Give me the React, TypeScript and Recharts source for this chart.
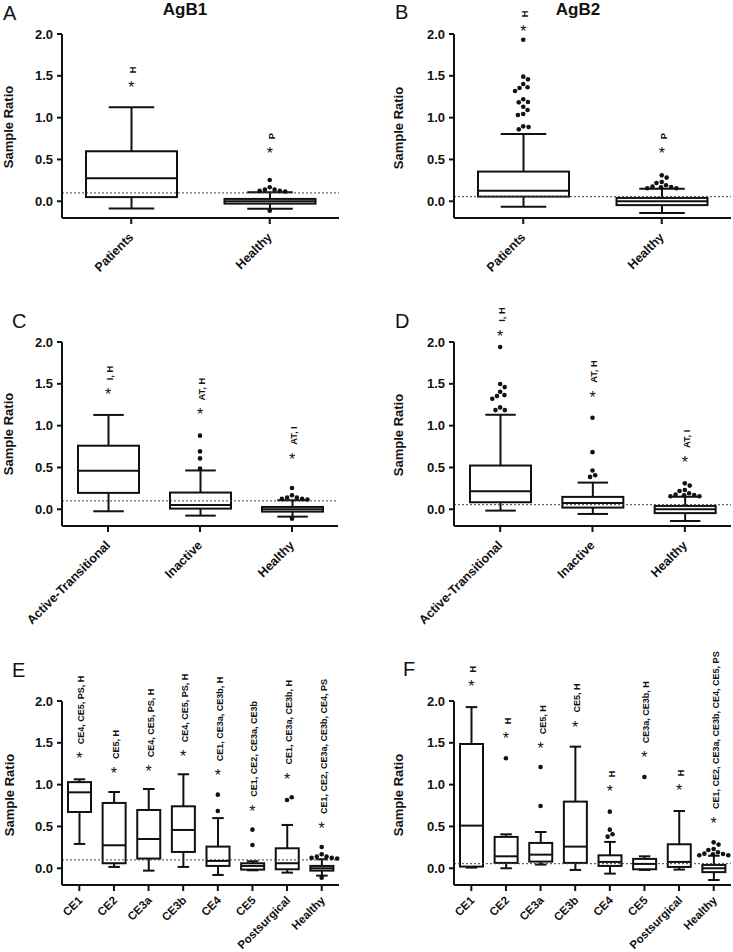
import React from 'react';
import { ComposedChart, Bar, Scatter, XAxis, YAxis, ReferenceLine, ReferenceDot } from 'recharts';

const FONT = '"Liberation Sans", Arial, Helvetica, sans-serif';
const INK = '#111';

// categories
const groupsAB = ['Patients', 'Healthy'];
const groupsCD = ['Active-Transitional', 'Inactive', 'Healthy'];
const groupsEF = ['CE1', 'CE2', 'CE3a', 'CE3b', 'CE4', 'CE5', 'Postsurgical', 'Healthy'];

// box summaries: min, Q1, median, Q3, max
const healthyB1 = [-0.088, -0.028, 0.0, 0.028, 0.108];
const healthyB2 = [-0.14, -0.046, 0.0, 0.04, 0.15];
const healthyB1Out = [0.255, 0.167, 0.139, 0.139, 0.124, 0.124, 0.116, -0.112];
const healthyB2Out = [0.31, 0.283, 0.231, 0.219, 0.191, 0.175, 0.171, 0.167, 0.155, 0.155];

const boxesA = [[-0.085, 0.05, 0.275, 0.598, 1.123], healthyB1];
const outA = [[], healthyB1Out];
const starA = [1.4, 0.61];
const sigA = ['H', 'P'];

const boxesB = [[-0.064, 0.056, 0.127, 0.355, 0.805], healthyB2];
const outB = [
  [1.932, 1.49, 1.458, 1.402, 1.363, 1.355, 1.319, 1.219, 1.187, 1.183, 1.131, 1.092, 1.044, 1.032, 0.896, 0.888, 0.86],
  healthyB2Out,
];
const starB = [2.07, 0.61];
const sigB = ['H', 'P'];

const boxesC = [[-0.024, 0.196, 0.46, 0.76, 1.128], [-0.076, 0.008, 0.052, 0.2, 0.464], healthyB1];
const outC = [[], [0.88, 0.692, 0.608, 0.488], healthyB1Out];
const starC = [1.41, 1.17, 0.64];
const sigC = ['I, H', 'AT, H', 'AT, I'];

const boxesD = [[-0.016, 0.084, 0.216, 0.523, 1.13], [-0.056, 0.02, 0.076, 0.148, 0.319], healthyB2];
const outD = [
  [1.94, 1.497, 1.461, 1.405, 1.365, 1.353, 1.321, 1.218, 1.186, 1.186],
  [1.094, 0.683, 0.463, 0.407, 0.387],
  healthyB2Out,
];
const starD = [2.11, 1.38, 0.6];
const sigD = ['I, H', 'AT, H', 'AT, I'];

const boxesE = [
  [0.291, 0.673, 0.908, 1.03, 1.064],
  [0.016, 0.06, 0.275, 0.781, 0.912],
  [-0.028, 0.116, 0.35, 0.697, 0.948],
  [0.016, 0.195, 0.458, 0.741, 1.124],
  [-0.08, 0.028, 0.088, 0.259, 0.6],
  [-0.024, -0.016, 0.028, 0.06, 0.084],
  [-0.052, -0.012, 0.06, 0.239, 0.518],
  healthyB1,
];
const outE = [[], [], [], [], [0.88, 0.685], [0.462, 0.279], [0.817, 0.849], healthyB1Out];
const starE = [1.35, 1.175, 1.195, 1.375, 1.147, 0.725, 1.108, 0.518];
const sigE = [
  'CE4, CE5, PS, H', 'CE5, H', 'CE4, CE5, PS, H', 'CE4, CE5, PS, H',
  'CE1, CE3a, CE3b, H', 'CE1, CE2, CE3a, CE3b', 'CE1, CE3a, CE3b, H', 'CE1, CE2, CE3a, CE3b, CE4, PS',
];

const boxesF = [
  [0.008, 0.02, 0.51, 1.486, 1.927],
  [0.0, 0.064, 0.143, 0.375, 0.406],
  [0.044, 0.08, 0.163, 0.303, 0.434],
  [-0.02, 0.064, 0.259, 0.797, 1.454],
  [-0.064, 0.028, 0.076, 0.155, 0.315],
  [-0.02, -0.012, 0.052, 0.112, 0.143],
  [-0.016, 0.016, 0.076, 0.287, 0.685],
  healthyB2,
];
const outF = [[], [1.315], [1.21, 0.745], [], [0.677, 0.462, 0.406, 0.378], [1.092], [], healthyB2Out];
const starF = [2.21, 1.59, 1.47, 1.73, 0.956, 1.363, 0.968, 0.578];
const sigF = ['H', 'H', 'CE5, H', 'CE5, H', 'H', 'CE3a, CE3b, H', 'H', 'CE1, CE2, CE3a, CE3b, CE4, CE5, PS'];

const cutB1 = 0.1;
const cutB2 = 0.055;
const yTicks = [0, 0.5, 1, 1.5, 2];

const PLOT_W = 277;
const PLOT_H = 184;
const Y_DOMAIN: [number, number] = [-0.2, 2];
const PX_PER_UNIT = PLOT_H / (Y_DOMAIN[1] - Y_DOMAIN[0]);

// spread overlapping outlier dots sideways (simple beeswarm)
function swarm(values: number[], d = 5.4): number[] {
  const placed: { x: number; y: number }[] = [];
  return values.map((v) => {
    const y = v * PX_PER_UNIT;
    const blocks = placed
      .filter((q) => Math.abs(q.y - y) < d)
      .map((q) => {
        const h = Math.sqrt(d * d - (q.y - y) ** 2);
        return [q.x - h, q.x + h];
      });
    const cands = [0, ...blocks.flat()].sort((a, b) => Math.abs(a) - Math.abs(b) || b - a);
    const x = cands.find((c) => blocks.every(([lo, hi]) => c <= lo + 1e-6 || c >= hi - 1e-6)) ?? 0;
    placed.push({ x, y });
    return x;
  });
}

const XTick = (props: any) => {
  const { x, y, payload, fs = 12.5, ox = 3, oy = 12 } = props;
  const ax = x + ox;
  const ay = y + oy;
  return (
    <text x={ax} y={ay} transform={`rotate(-45 ${ax} ${ay})`} textAnchor="end" fontSize={fs} fontWeight="bold" fontFamily={FONT} fill={INK}>
      {payload.value}
    </text>
  );
};

const Whisker = (props: any) => {
  const { x, y, width, height } = props;
  const top = Math.min(y, y + height);
  const bot = Math.max(y, y + height);
  const cx = x + width / 2;
  const cap = width / 4;
  return (
    <g stroke={INK} strokeWidth={2} fill="none">
      <line x1={cx} x2={cx} y1={top} y2={bot} />
      <line x1={cx - cap} x2={cx + cap} y1={top} y2={top} />
      <line x1={cx - cap} x2={cx + cap} y1={bot} y2={bot} />
    </g>
  );
};

const Box = (props: any) => {
  const { x, y, width, height } = props;
  const top = Math.min(y, y + height);
  return <rect x={x} y={top} width={width} height={Math.abs(height)} fill="#fff" stroke={INK} strokeWidth={2} />;
};

interface PanelProps {
  groups: string[];
  boxes: number[][];
  outliers: number[][];
  stars: number[];
  sigs: string[];
  cut: number;
  left: number;
  top: number;
  width: number;
  height: number;
  ml: number;
  mr: number;
  mt: number;
}

function Panel(p: PanelProps) {
  const n = p.groups.length;
  const dense = n > 3;
  const bw = Math.round((PLOT_W / n) * 0.66);
  const rows = p.groups.map((name, i) => ({
    name,
    whisker: [p.boxes[i][0], p.boxes[i][4]],
    box: [p.boxes[i][1], p.boxes[i][3]],
    med: p.boxes[i][2],
  }));
  const dots = p.groups.flatMap((_, i) => {
    const dx = swarm(p.outliers[i]);
    return p.outliers[i].map((v, k) => ({ x: i, v, dx: dx[k] }));
  });
  const sigSize = dense ? 9 : 9.3;
  return (
    <div style={{ position: 'absolute', left: p.left, top: p.top }}>
      <ComposedChart width={p.width} height={p.height} data={rows} margin={{ top: p.mt, right: p.mr, bottom: 0, left: p.ml }}>
        <XAxis
          dataKey="name"
          type="category"
          interval={0}
          height={p.height - p.mt - PLOT_H}
          tick={dense ? <XTick fs={11.5} ox={4} oy={8} /> : <XTick fs={12.5} ox={3} oy={12} />}
          tickSize={6}
          tickLine={{ stroke: INK, strokeWidth: 2 }}
          axisLine={{ stroke: INK, strokeWidth: 2 }}
        />
        <XAxis xAxisId="box" dataKey="name" type="category" hide />
        <XAxis xAxisId="num" dataKey="x" type="number" domain={[-0.5, n - 0.5]} hide />
        <YAxis
          width={50}
          domain={Y_DOMAIN}
          ticks={yTicks}
          tickFormatter={(v: number) => v.toFixed(1)}
          tickSize={5}
          tickMargin={4}
          tick={{ fontSize: 13, fontWeight: 'bold', fill: INK, fontFamily: FONT }}
          tickLine={{ stroke: INK, strokeWidth: 2 }}
          axisLine={{ stroke: INK, strokeWidth: 2 }}
        />
        <Bar dataKey="whisker" barSize={bw} shape={Whisker} isAnimationActive={false} />
        <Bar dataKey="box" xAxisId="box" barSize={bw} shape={Box} isAnimationActive={false} />
        <Scatter
          dataKey="med"
          isAnimationActive={false}
          shape={(s: any) => <line x1={s.cx - bw / 2} x2={s.cx + bw / 2} y1={s.cy} y2={s.cy} stroke={INK} strokeWidth={2} />}
        />
        <ReferenceLine y={p.cut} stroke="#444" strokeWidth={1} strokeDasharray="2 2" />
        <Scatter
          data={dots}
          dataKey="v"
          xAxisId="num"
          isAnimationActive={false}
          shape={(s: any) => <circle cx={s.cx + (s.payload?.dx ?? 0)} cy={s.cy} r={2.3} fill={INK} />}
        />
        {p.stars.map((s, i) => (
          <ReferenceDot
            key={i}
            xAxisId="num"
            x={i}
            y={s}
            ifOverflow="visible"
            shape={(d: any) => (
              <g fontFamily={FONT} fill={INK}>
                <text x={d.cx} y={d.cy + 9} textAnchor="middle" fontSize={16}>*</text>
                <text
                  x={d.cx + 5}
                  y={d.cy - 11}
                  transform={`rotate(-90 ${d.cx + 5} ${d.cy - 11})`}
                  fontSize={sigSize}
                  fontWeight="bold"
                >
                  {p.sigs[i]}
                </text>
              </g>
            )}
          />
        ))}
      </ComposedChart>
    </div>
  );
}

const letters = [
  { t: 'A', x: 3, y: 20 },
  { t: 'B', x: 395, y: 19 },
  { t: 'C', x: 12, y: 328 },
  { t: 'D', x: 395, y: 328 },
  { t: 'E', x: 12, y: 677 },
  { t: 'F', x: 403, y: 676 },
];
const yLabels = [
  { x: 13, y: 127 },
  { x: 403, y: 128 },
  { x: 13, y: 434 },
  { x: 403, y: 435 },
  { x: 14, y: 795 },
  { x: 403, y: 795 },
];

export default function App() {
  return (
    <div style={{ position: 'absolute', left: 0, top: 0, width: 733, height: 952, overflow: 'hidden', background: '#fff' }}>
      <svg width={733} height={952} style={{ position: 'absolute', left: 0, top: 0 }} fontFamily={FONT}>
        <text x={185} y={15} textAnchor="middle" fontSize={17} fontWeight="bold" fill={INK}>AgB1</text>
        <text x={578} y={15} textAnchor="middle" fontSize={17} fontWeight="bold" fill={INK}>AgB2</text>
        {letters.map((l) => (
          <text key={l.t} x={l.x} y={l.y} fontSize={20} fill={INK}>{l.t}</text>
        ))}
        {yLabels.map((l, i) => (
          <text key={i} x={l.x} y={l.y} transform={`rotate(-90 ${l.x} ${l.y})`} textAnchor="middle" fontSize={13} fontWeight="bold" fill={INK}>
            Sample Ratio
          </text>
        ))}
      </svg>
      <Panel groups={groupsAB} boxes={boxesA} outliers={outA} stars={starA} sigs={sigA} cut={cutB1} left={0} top={0} width={366} height={300} ml={12} mr={27} mt={34} />
      <Panel groups={groupsAB} boxes={boxesB} outliers={outB} stars={starB} sigs={sigB} cut={cutB2} left={366} top={0} width={367} height={300} ml={38} mr={2} mt={34} />
      <Panel groups={groupsCD} boxes={boxesC} outliers={outC} stars={starC} sigs={sigC} cut={cutB1} left={0} top={300} width={366} height={342} ml={12} mr={28} mt={42} />
      <Panel groups={groupsCD} boxes={boxesD} outliers={outD} stars={starD} sigs={sigD} cut={cutB2} left={366} top={300} width={367} height={342} ml={38} mr={2} mt={42} />
      <Panel groups={groupsEF} boxes={boxesE} outliers={outE} stars={starE} sigs={sigE} cut={cutB1} left={0} top={620} width={366} height={332} ml={12} mr={27} mt={81} />
      <Panel groups={groupsEF} boxes={boxesF} outliers={outF} stars={starF} sigs={sigF} cut={cutB2} left={366} top={620} width={367} height={332} ml={38} mr={2} mt={81} />
    </div>
  );
}
